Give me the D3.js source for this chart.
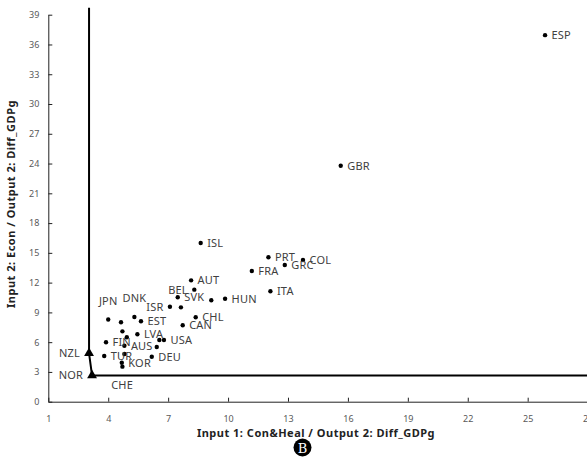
<!DOCTYPE html>
<html>
<head>
  <meta charset="utf-8">
  <style>
    body { margin: 0; background: #fff; }
    svg { font-family: "Noto Sans", "Open Sans", sans-serif; }
    .tick text { font-size: 9px; fill: #595959; }
    .axis path, .axis line { stroke: #222; }
    .lbl { font-size: 11px; fill: #404040; letter-spacing: 0.2px; }
    .title { font-size: 11px; font-weight: bold; fill: #222; letter-spacing: 0.5px; }
  </style>
</head>
<body>
<svg id="chart" width="587" height="468"></svg>
<script src="https://cdn.jsdelivr.net/npm/d3@7"></script>
<script>
// country codes ('' = point without a visible label)
var names = ['ESP', 'GBR', 'ISL', 'PRT', 'COL', 'GRC', 'FRA', 'AUT', 'ITA', 'BEL',
  'SVK', 'HUN', '', 'ISR', '', 'CHL', 'CAN', 'JPN', 'DNK', 'EST',
  '', '', 'LVA', '', 'FIN', 'AUS', '', 'USA', '', 'TUR',
  '', 'DEU', 'KOR', ''];
var xVals = [25.87, 15.64, 8.63, 12.02, 13.75, 12.84, 11.19, 8.15, 12.12, 8.31,
  7.48, 9.85, 9.16, 7.09, 7.64, 8.38, 7.73, 4.00, 5.31, 5.64,
  4.64, 4.71, 5.46, 4.93, 3.89, 4.81, 6.56, 6.79, 6.43, 3.80,
  4.81, 6.18, 4.68, 4.71];
var yVals = [36.94, 23.78, 15.99, 14.55, 14.28, 13.78, 13.17, 12.23, 11.13, 11.29,
  10.52, 10.38, 10.22, 9.57, 9.51, 8.51, 7.70, 8.28, 8.54, 8.10,
  8.00, 7.09, 6.79, 6.49, 5.99, 5.64, 6.22, 6.22, 5.51, 4.61,
  4.81, 4.53, 3.93, 3.53];
// where the label sits: r = right, l = left, t = above
var labelSide = ['r', 'r', 'r', 'r', 'r', 'r', 'r', 'r', 'r', 'l',
  'r', 'r', 'r', 'l', 'r', 'r', 'r', 't', 't', 'r',
  'r', 'r', 'r', 'r', 'r', 'r', 'r', 'r', 'r', 'r',
  'r', 'r', 'r', 'r'];

// efficient units (triangles) and the frontier they span
var frontNames = ['NZL', 'NOR'];
var frontX = [3.04, 3.19];
var frontY = [4.88, 2.64];
var frontierX = [3.04, 3.04, 3.19, 28.2];
var frontierY = [39.7, 4.88, 2.64, 2.64];
// CHE sits on the same spot as NOR
var cheX = 3.19, cheY = 2.64;

var xTicks = [1, 4, 7, 10, 13, 16, 19, 22, 25, 28];
var yTicks = [0, 3, 6, 9, 12, 15, 18, 21, 24, 27, 30, 33, 36, 39];

var svg = d3.select('#chart');

var x = d3.scaleLinear().domain([1, 28]).range([48.3, 587.6]);
var y = d3.scaleLinear().domain([0, 39]).range([401.7, 14.7]);

svg.append('g')
  .attr('class', 'axis')
  .attr('transform', 'translate(0,' + y(0) + ')')
  .call(d3.axisBottom(x).tickValues(xTicks).tickSize(-4).tickSizeOuter(0).tickPadding(14));

svg.append('g')
  .attr('class', 'axis')
  .attr('transform', 'translate(' + x(1) + ',0)')
  .call(d3.axisLeft(y).tickValues(yTicks).tickSize(-4).tickSizeOuter(0).tickPadding(9));

svg.selectAll('.axis').attr('font-family', null).attr('font-size', null);

// axis titles
svg.append('text')
  .attr('class', 'title')
  .attr('x', 316)
  .attr('y', 437)
  .attr('text-anchor', 'middle')
  .text('Input 1: Con&Heal / Output 2: Diff_GDPg');

svg.append('text')
  .attr('class', 'title')
  .attr('transform', 'translate(15,204) rotate(-90)')
  .attr('text-anchor', 'middle')
  .text('Input 2: Econ / Output 2: Diff_GDPg');

// frontier
var line = d3.line().x(d => x(d[0])).y(d => y(d[1]));
svg.append('path')
  .datum(frontierX.map((v, i) => [v, frontierY[i]]))
  .attr('d', line)
  .attr('fill', 'none')
  .attr('stroke', '#000')
  .attr('stroke-width', 2);

// dots
var pts = names.map((n, i) => ({ name: n, x: xVals[i], y: yVals[i], side: labelSide[i] }));

svg.selectAll('circle.pt')
  .data(pts)
  .enter()
  .append('circle')
  .attr('class', 'pt')
  .attr('cx', d => x(d.x))
  .attr('cy', d => y(d.y))
  .attr('r', 2.2)
  .attr('fill', '#000');

svg.selectAll('text.pl')
  .data(pts.filter(d => d.name))
  .enter()
  .append('text')
  .attr('class', 'lbl pl')
  .attr('x', d => x(d.x) + (d.side == 'r' ? 6.5 : d.side == 'l' ? -6.5 : 0))
  .attr('y', d => y(d.y) + (d.side == 't' ? -15 : 4))
  .attr('text-anchor', d => d.side == 'r' ? 'start' : d.side == 'l' ? 'end' : 'middle')
  .text(d => d.name);

// triangles for the frontier units
var fpts = frontNames.map((n, i) => ({ name: n, x: frontX[i], y: frontY[i] }));

svg.selectAll('path.tri')
  .data(fpts)
  .enter()
  .append('path')
  .attr('class', 'tri')
  .attr('d', d3.symbol().type(d3.symbolTriangle).size(42))
  .attr('transform', d => 'translate(' + x(d.x) + ',' + y(d.y) + ')')
  .attr('fill', '#000');

svg.selectAll('text.fl')
  .data(fpts)
  .enter()
  .append('text')
  .attr('class', 'lbl fl')
  .attr('x', d => x(d.x) - 9)
  .attr('y', d => y(d.y) + 3.5)
  .attr('text-anchor', 'end')
  .text(d => d.name);

svg.append('text')
  .attr('class', 'lbl')
  .attr('x', x(cheX) + 30)
  .attr('y', y(cheY) + 13)
  .attr('text-anchor', 'middle')
  .text('CHE');

// panel marker
svg.append('circle')
  .attr('cx', 302.5)
  .attr('cy', 447.5)
  .attr('r', 9)
  .attr('fill', '#000');

svg.append('text')
  .attr('x', 302.5)
  .attr('y', 452.5)
  .attr('text-anchor', 'middle')
  .attr('fill', '#fff')
  .style('font-family', '"DejaVu Serif", "Liberation Serif", serif')
  .style('font-size', '13px')
  .text('B');
</script>
</body>
</html>
